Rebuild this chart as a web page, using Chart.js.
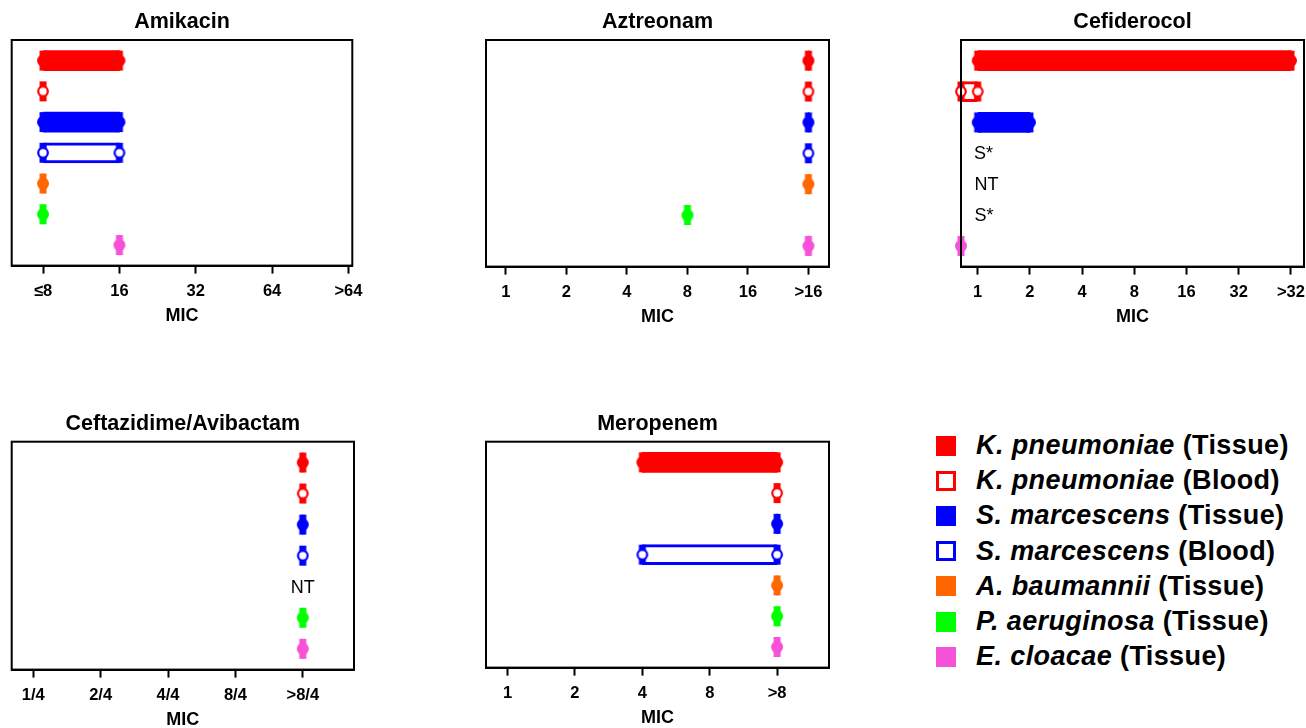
<!DOCTYPE html>
<html>
<head>
<meta charset="utf-8">
<script src="https://cdn.jsdelivr.net/npm/chart.js"></script>
<style>
  html, body { margin: 0; padding: 0; background: #fff; overflow: hidden; }
  body { width: 1306px; height: 728px; position: relative; font-family: "Liberation Sans", Arial, sans-serif; }
  .panel { position: absolute; }
  #legend { position: absolute; left: 936px; top: 428px; }
  .item { height: 35.2px; display: flex; align-items: center; font-weight: bold; font-size: 27px; letter-spacing: 0.4px; white-space: nowrap; color: #000; }
  .sw { width: 20px; height: 20px; box-sizing: border-box; margin-right: 20px; }
</style>
</head>
<body>
<div id="legend"></div>
<script>
  // organisms, one row each (top to bottom)
  const species = ["K. pneumoniae", "K. pneumoniae", "S. marcescens", "S. marcescens", "A. baumannii", "P. aeruginosa", "E. cloacae"];
  const sources = ["Tissue", "Blood", "Tissue", "Blood", "Tissue", "Tissue", "Tissue"];
  const colors = ["#ff0000", "#ff0000", "#0000ff", "#0000ff", "#ff6600", "#00ff00", "#f552d8"];
  const openMarker = [false, true, false, true, false, false, false];

  // MIC values are positions on each axis, in tick steps (0 = first tick label)
  const amikacinTicks = ["≤8", "16", "32", "64", ">64"];
  const amikacinLow = [0, 0, 0, 0, 0, 0, 1];
  const amikacinHigh = [1, 0, 1, 1, 0, 0, 1];

  const aztreonamTicks = ["1", "2", "4", "8", "16", ">16"];
  const aztreonamLow = [5, 5, 5, 5, 5, 3, 5];
  const aztreonamHigh = [5, 5, 5, 5, 5, 3, 5];

  const cefiderocolTicks = ["1", "2", "4", "8", "16", "32", ">32"];
  const cefiderocolLow = [0, -0.32, 0, null, null, null, -0.32];
  const cefiderocolHigh = [6, 0, 1, null, null, null, -0.32];
  const cefiderocolNotes = [null, null, null, "S*", "NT", "S*", null];
  const cefiderocolNotePos = [null, null, null, 0.11, 0.17, 0.12, null];

  const ceftazidimeTicks = ["1/4", "2/4", "4/4", "8/4", ">8/4"];
  const ceftazidimeLow = [4, 4, 4, 4, null, 4, 4];
  const ceftazidimeHigh = [4, 4, 4, 4, null, 4, 4];
  const ceftazidimeNotes = [null, null, null, null, "NT", null, null];
  const ceftazidimeNotePos = [null, null, null, null, 4, null, null];

  const meropenemTicks = ["1", "2", "4", "8", ">8"];
  const meropenemLow = [2, 4, 4, 2, 4, 4, 4];
  const meropenemHigh = [4, 4, 4, 4, 4, 4, 4];

  const panels = [
    { title: "Amikacin", ticks: amikacinTicks, low: amikacinLow, high: amikacinHigh,
      box: [11.7, 40, 352.3, 266], range: [-0.41, 4.05] },
    { title: "Aztreonam", ticks: aztreonamTicks, low: aztreonamLow, high: aztreonamHigh,
      box: [486, 40, 829, 267], range: [-0.33, 5.34] },
    { title: "Cefiderocol", ticks: cefiderocolTicks, low: cefiderocolLow, high: cefiderocolHigh,
      notes: cefiderocolNotes, notePos: cefiderocolNotePos,
      box: [961, 40, 1304, 267], range: [-0.32, 6.25] },
    { title: "Ceftazidime/Avibactam", ticks: ceftazidimeTicks, low: ceftazidimeLow, high: ceftazidimeHigh,
      notes: ceftazidimeNotes, notePos: ceftazidimeNotePos,
      box: [11.7, 441.7, 354, 670], range: [-0.32, 4.76] },
    { title: "Meropenem", ticks: meropenemTicks, low: meropenemLow, high: meropenemHigh,
      box: [486, 441.7, 829, 668.3], range: [-0.32, 4.77] }
  ];

  Chart.defaults.font.family = '"Liberation Sans", Arial, sans-serif';
  Chart.defaults.color = "#000";

  // end marker: narrow bar stub with a dot on it
  function makeGlyph(color, open) {
    const c = document.createElement("canvas");
    c.width = 16; c.height = 22;
    const g = c.getContext("2d");
    g.fillStyle = color;
    g.fillRect(4.5, 1, 7, 20);
    g.beginPath();
    if (open) {
      g.arc(8, 11, 4.8, 0, Math.PI * 2);
      g.fillStyle = "#fff";
      g.fill();
      g.lineWidth = 2.2;
      g.strokeStyle = color;
      g.stroke();
    } else {
      g.arc(8, 11, 6, 0, Math.PI * 2);
      g.fill();
    }
    return c;
  }
  const glyphs = colors.map((c, i) => makeGlyph(c, openMarker[i]));

  const boxPlugin = {
    id: "box",
    afterDatasetsDraw(chart) {
      const a = chart.chartArea, ctx = chart.ctx;
      ctx.save();
      ctx.strokeStyle = "#000";
      ctx.lineWidth = 2;
      ctx.strokeRect(a.left, a.top, a.right - a.left, a.bottom - a.top);
      ctx.restore();
    }
  };

  const notePlugin = {
    id: "notes",
    afterDatasetsDraw(chart, args, opts) {
      if (!opts.notes) return;
      const ctx = chart.ctx, xs = chart.scales.x, ys = chart.scales.y;
      ctx.save();
      ctx.font = '18px "Liberation Sans", Arial, sans-serif';
      ctx.fillStyle = "#000";
      ctx.textAlign = "center";
      ctx.textBaseline = "middle";
      opts.notes.forEach((t, i) => {
        if (t) ctx.fillText(t, xs.getPixelForValue(opts.notePos[i]), ys.getPixelForValue(i) + 1);
      });
      ctx.restore();
    }
  };

  const PAD = 24, TOP = 34, AXIS_H = 63;
  const TITLE_BLOCK = 21.5 * 1.2 + 5;

  panels.forEach(p => {
    const [L, T, R, B] = p.box;
    const cl = Math.floor(L - PAD), ct = Math.floor(T - TOP);
    const cw = Math.ceil(R + PAD) - cl, ch = Math.round(B + AXIS_H) - ct;
    const div = document.createElement("div");
    div.className = "panel";
    div.style.left = cl + "px";
    div.style.top = ct + "px";
    const canvas = document.createElement("canvas");
    canvas.width = cw; canvas.height = ch;
    canvas.style.width = cw + "px"; canvas.style.height = ch + "px";
    div.appendChild(canvas);
    document.body.appendChild(div);

    const rows = species.map((_, i) => i).filter(i => p.low[i] !== null);
    const points = [], pointStyles = [];
    rows.forEach(i => {
      points.push({ x: p.low[i], y: i }); pointStyles.push(glyphs[i]);
      if (p.high[i] !== p.low[i]) { points.push({ x: p.high[i], y: i }); pointStyles.push(glyphs[i]); }
    });

    new Chart(canvas, {
      type: "bar",
      data: {
        datasets: [
          { type: "scatter", data: points, pointStyle: pointStyles, pointRadius: 6, clip: false },
          {
            type: "bar",
            indexAxis: "y",
            data: rows.map(i => ({ y: i, x: [p.low[i], p.high[i]] })),
            backgroundColor: rows.map(i => openMarker[i] ? "#fff" : colors[i]),
            borderColor: rows.map(i => colors[i]),
            borderWidth: rows.map(i => openMarker[i] ? 3 : 0),
            borderSkipped: false,
            barThickness: 20
          }
        ]
      },
      options: {
        indexAxis: "y",
        responsive: false,
        animation: false,
        layout: {
          padding: { left: L - cl, right: cl + cw - R, top: (T - ct) - TITLE_BLOCK, bottom: 0 }
        },
        plugins: {
          legend: { display: false },
          tooltip: { enabled: false },
          title: {
            display: true, text: p.title, color: "#000",
            font: { size: 21.5, weight: "bold", lineHeight: 1.2 },
            padding: { top: 0, bottom: 5 }
          },
          notes: { notes: p.notes, notePos: p.notePos }
        },
        scales: {
          x: {
            type: "linear", position: "bottom", min: p.range[0], max: p.range[1],
            offset: false, beginAtZero: false, bounds: "data",
            afterBuildTicks: s => { s.ticks = p.ticks.map((_, i) => ({ value: i })); },
            ticks: {
              callback: v => p.ticks[v], color: "#000", autoSkip: false, maxRotation: 0,
              font: { size: 16.5, weight: "bold" }, padding: 7.5
            },
            grid: { drawOnChartArea: false, drawTicks: true, tickLength: 8, tickWidth: 2, tickColor: "#000", offset: false },
            border: { display: true, color: "#000", width: 2 },
            title: {
              display: true, text: "MIC", color: "#000",
              font: { size: 18, weight: "bold", lineHeight: 1.2 }, padding: { top: -3, bottom: 2 }
            }
          },
          y: {
            type: "linear", min: -0.67, max: 6.67, reverse: true, display: false,
            offset: false, grid: { offset: false }
          }
        }
      },
      plugins: [boxPlugin, notePlugin]
    });
  });

  // legend
  const legend = document.getElementById("legend");
  species.forEach((s, i) => {
    const item = document.createElement("div");
    item.className = "item";
    const sw = document.createElement("div");
    sw.className = "sw";
    if (openMarker[i]) { sw.style.border = "3.5px solid " + colors[i]; sw.style.background = "#fff"; }
    else sw.style.background = colors[i];
    const txt = document.createElement("span");
    txt.innerHTML = "<i>" + s + "</i> (" + sources[i] + ")";
    item.appendChild(sw);
    item.appendChild(txt);
    legend.appendChild(item);
  });
</script>
</body>
</html>
